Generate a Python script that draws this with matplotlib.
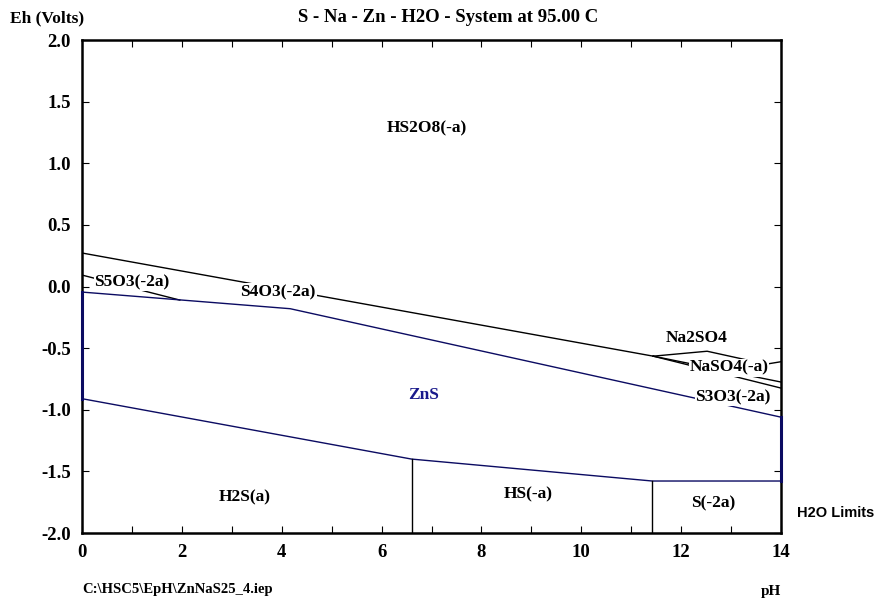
import matplotlib
matplotlib.use('Agg')
import matplotlib.pyplot as plt

### Data: Eh-pH boundary lines (pH, Eh in Volts)
# upper boundary (HS2O8 / S4O3 band) up to the Na2SO4 junction
top_ph = [0, 11.44]
top_eh = [0.272, -0.565]

# Na2SO4 / NaSO4(-a) boundaries near the right edge
na2so4_ph = [11.44, 12.52, 13.7, 14]
na2so4_eh = [-0.565, -0.525, -0.63, -0.61]
naso4_ph = [11.44, 14]
naso4_eh = [-0.565, -0.775]
s3o3_ph = [11.44, 14]
s3o3_eh = [-0.565, -0.824]

# S5O3 wedge at low pH
s5o3_ph = [0, 1.96]
s5o3_eh = [0.093, -0.11]

# ZnS field boundaries (drawn in navy)
zns_top_ph = [0, 4.17, 14]
zns_top_eh = [-0.045, -0.18, -1.06]
zns_bot_ph = [0, 6.6, 11.42, 14]
zns_bot_eh = [-0.91, -1.40, -1.578, -1.578]

# vertical boundaries between aqueous sulfide species
vert_ph = [6.6, 11.42]
vert_eh = [-1.40, -1.578]

# region labels
labels = ['HS2O8(-a)', 'S5O3(-2a)', 'S4O3(-2a)', 'Na2SO4', 'NaSO4(-a)',
          'S3O3(-2a)', 'ZnS', 'H2S(a)', 'HS(-a)', 'S(-2a)']
label_ph = [6.91, 1.0, 3.93, 12.3, 12.96, 13.04, 6.85, 3.26, 8.93, 12.64]
label_eh = [1.28, 0.036, -0.045, -0.42, -0.66, -0.90, -0.88, -1.71, -1.69, -1.76]

x_ticks = [0, 2, 4, 6, 8, 10, 12, 14]
y_ticks = [2.0, 1.5, 1.0, 0.5, 0.0, -0.5, -1.0, -1.5, -2.0]

navy = '#0b0b62'
serif = 'Liberation Serif'

### Figure
fig = plt.figure(figsize=(8.76, 6.01), dpi=100)
ax = fig.add_axes([0.0936, 0.1131, 0.798, 0.8203])
ax.set_xlim(0, 14)
ax.set_ylim(-2, 2)

lw = 1.0
ax.plot(top_ph, top_eh, color='black', lw=lw)
ax.plot(na2so4_ph, na2so4_eh, color='black', lw=lw)
ax.plot(naso4_ph, naso4_eh, color='black', lw=lw)
ax.plot(s3o3_ph, s3o3_eh, color='black', lw=lw)
ax.plot(s5o3_ph, s5o3_eh, color='black', lw=lw)
ax.plot(zns_top_ph, zns_top_eh, color=navy, lw=lw)
ax.plot(zns_bot_ph, zns_bot_eh, color=navy, lw=lw)
for p, e in zip(vert_ph, vert_eh):
    ax.plot([p, p], [-2, e], color='black', lw=lw)

# ZnS boundary along the plot edges
ax.plot([0, 0], [zns_top_eh[0], zns_bot_eh[0]], color=navy, lw=2.2, zorder=7,
        clip_on=False)
ax.plot([14, 14], [zns_top_eh[-1], zns_bot_eh[-1]], color=navy, lw=2.2, zorder=7,
        clip_on=False)

# region labels with white background covering the lines
for name, p, e in zip(labels, label_ph, label_eh):
    col = '#1a1a8c' if name == 'ZnS' else 'black'
    ax.text(p, e, name, ha='center', va='center', fontsize=12.5,
            fontweight='bold', family=serif, color=col, zorder=4,
            bbox=dict(facecolor='white', edgecolor='none', pad=0.5))

# axes styling
for s in ax.spines.values():
    s.set_linewidth(1.8)
    s.set_zorder(6)
ax.set_xticks(x_ticks)
ax.set_xticks(range(0, 15), minor=True)
ax.set_yticks(y_ticks)
ax.set_xticklabels([str(t) for t in x_ticks])
ax.set_yticklabels([f'{t:.1f}' for t in y_ticks])
ax.tick_params(direction='in', length=5, width=0.8, top=True, right=True,
               pad=8)
ax.tick_params(which='minor', direction='in', length=5, width=0.8, top=True)
for lab in ax.get_xticklabels() + ax.get_yticklabels():
    lab.set_family(serif)
    lab.set_fontweight('bold')
    lab.set_fontsize(13.5)

# surrounding texts
fig.text(10 / 876, 1 - 18 / 601, 'Eh (Volts)', ha='left', va='center',
         family=serif, fontweight='bold', fontsize=12.5)
fig.text(448 / 876, 1 - 18 / 601, 'S - Na - Zn - H2O - System at 95.00 C',
         ha='center', va='center', family=serif, fontweight='bold', fontsize=13.5)
fig.text(82 / 876, 1 - 590 / 601, r'C:\HSC5\EpH\ZnNaS25_4.iep', ha='left',
         va='center', family=serif, fontweight='bold', fontsize=10.5)
fig.text(781 / 876, 1 - 591 / 601, 'pH', ha='right', va='center',
         family=serif, fontweight='bold', fontsize=11)
fig.text(797 / 876, 1 - 513 / 601, 'H2O Limits', ha='left', va='center',
         family='Liberation Sans', fontweight='bold', fontsize=10.5)

fig.savefig('out.png', dpi=100)
